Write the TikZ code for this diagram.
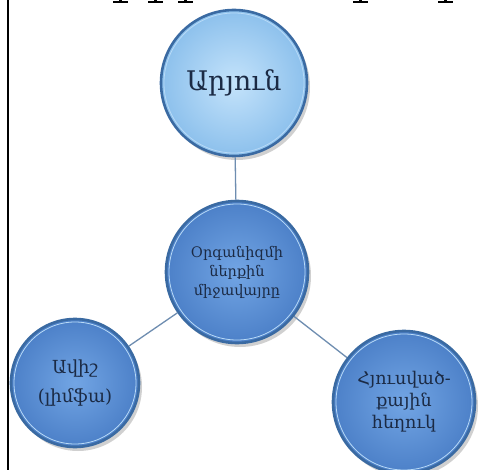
\documentclass[tikz,border=0pt]{standalone}
\usepackage{fontspec}
\newfontfamily\armfont{DejaVu Serif}
\usetikzlibrary{shadows}
\definecolor{rimblue}{HTML}{3A6AA2}
\definecolor{ringlight}{HTML}{B8DAF7}
\definecolor{linkblue}{HTML}{6E8DB0}
\definecolor{txt}{HTML}{1B2A44}
\definecolor{paleIn}{HTML}{C4E3FB}
\definecolor{paleOut}{HTML}{8CC0EC}
\definecolor{deepIn}{HTML}{72A5E4}
\definecolor{deepOut}{HTML}{4C80C8}
\tikzset{
  bubble/.style={circle, draw=rimblue, line width=2.6pt, inner sep=0pt,
    align=center, text=txt,
    drop shadow={shadow xshift=3pt, shadow yshift=-4pt, opacity=0.3, fill=black!60}},
  palebubble/.style={bubble, shading=radial, inner color=paleIn, outer color=paleOut},
  deepbubble/.style={bubble, shading=radial, inner color=deepIn, outer color=deepOut},
  ring/.style={draw=ringlight, line width=0.8pt},
  link/.style={draw=linkblue, line width=1.3pt},
  glyphfoot/.style={fill=black}
}
\begin{document}
\begin{tikzpicture}[x=1pt,y=-1pt]
\useasboundingbox (0,0) rectangle (479,470);
\fill[white] (0,0) rectangle (479,470);
% cut-off title glyph feet
\foreach \cx in {120,155,185,360,445}{
  \fill[glyphfoot] (\cx-7.5,1.2) rectangle (\cx+7.5,3.2);
  \fill[glyphfoot] (\cx-1.5,0) rectangle (\cx+1.5,1.5);
}
% left frame line
\draw[line width=2.6pt] (8,0) -- (8,470);
% nodes
\node[palebubble, minimum size=146pt, font={\armfont\fontsize{27}{30}\selectfont}] (blood) at (234,83) {Արյուն};
\node[deepbubble, minimum size=142pt, font={\armfont\fontsize{14.5}{19}\selectfont}] (mid) at (237,272) {Օրգանիզմի\\ներքին\\միջավայրը};
\node[deepbubble, minimum size=128pt, font={\armfont\fontsize{18}{29}\selectfont}] (lymph) at (75,383) {Ավիշ\\(լիմֆա)};
\node[deepbubble, minimum size=142pt, font={\armfont\fontsize{17.5}{22}\selectfont}] (tissue) at (404,402) {Հյուսված-\\քային\\հեղուկ};
\foreach \n/\r in {blood/70,mid/68,lymph/61,tissue/68}{
  \draw[ring] (\n.center) circle (\r);
}
% connectors
\draw[link] (blood) -- (mid);
\draw[link] (mid) -- (lymph);
\draw[link] (mid) -- (tissue);
\end{tikzpicture}
\end{document}
